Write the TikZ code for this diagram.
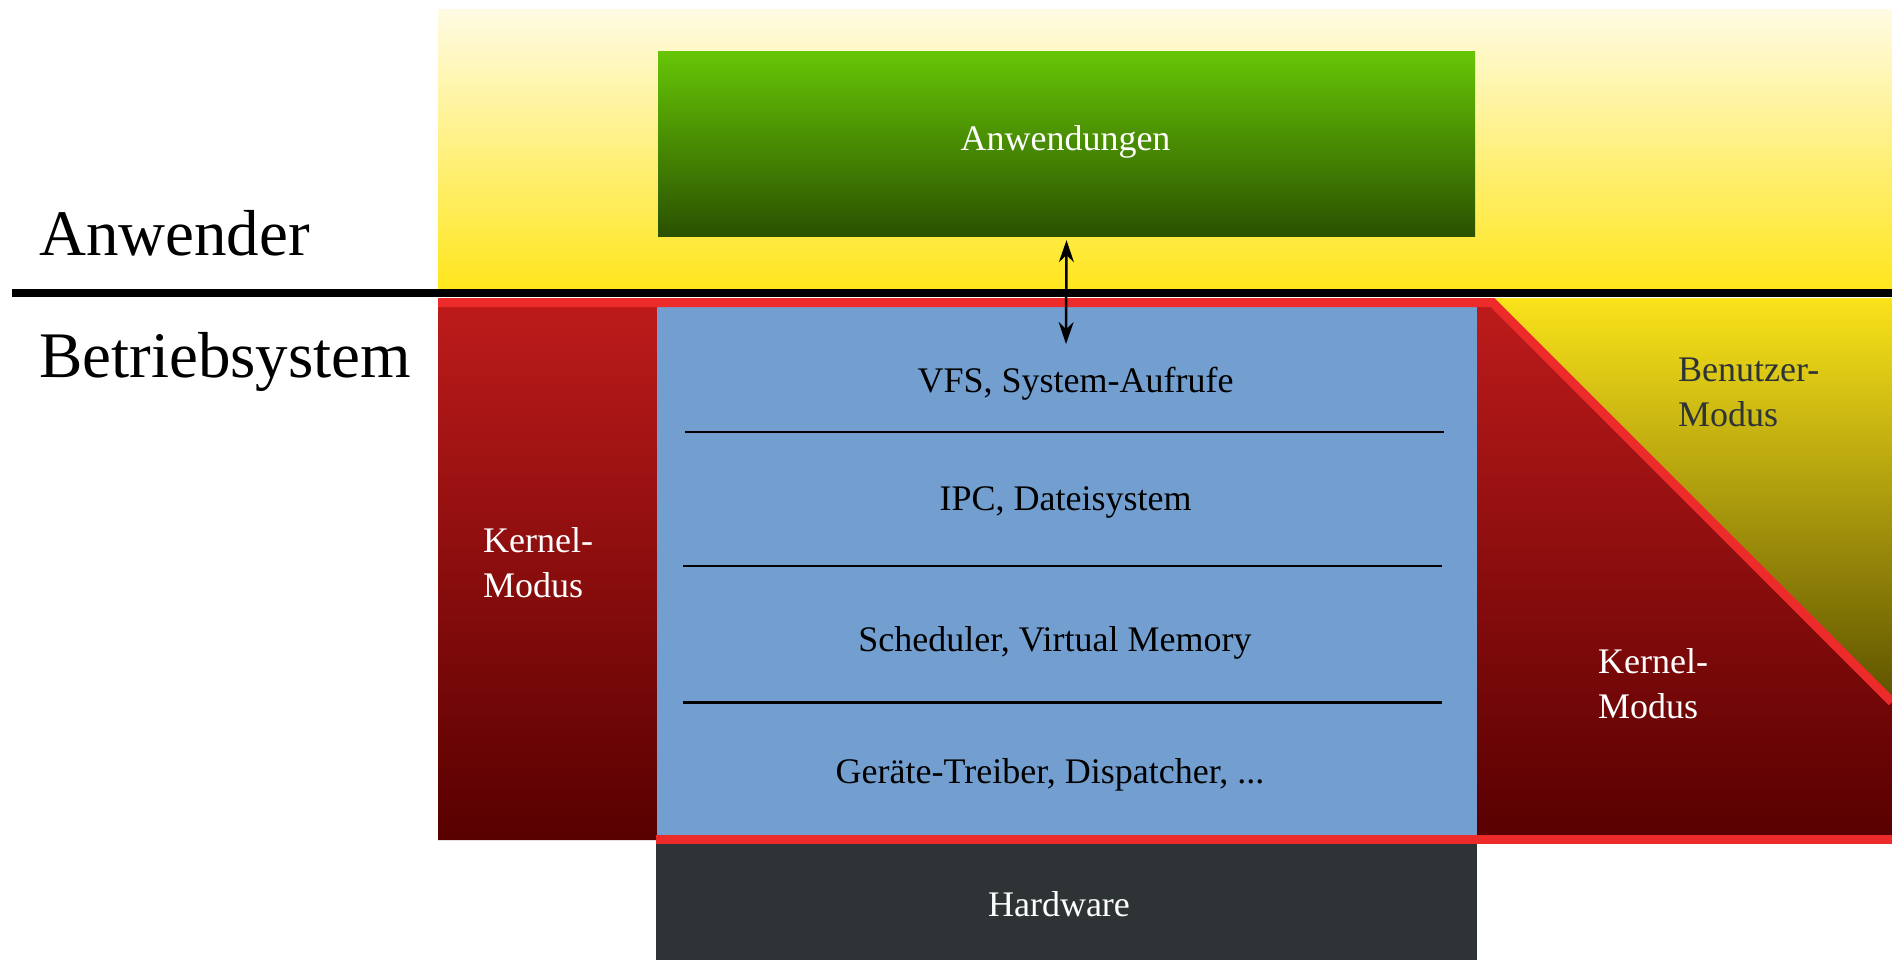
\documentclass[tikz,border=0pt]{standalone}
\usepackage{fontspec}
\setmainfont{Liberation Serif}
\usetikzlibrary{arrows.meta}

\definecolor{usertop}{HTML}{FFFBE3}
\definecolor{userbot}{HTML}{FFE61A}
\definecolor{umodetop}{HTML}{FAE31A}
\definecolor{umodebot}{HTML}{5E5400}
\definecolor{kmodetop}{HTML}{BE1B1B}
\definecolor{kmodebot}{HTML}{580000}
\definecolor{apptop}{HTML}{66C506}
\definecolor{appbot}{HTML}{2A5100}
\definecolor{layerblue}{HTML}{729FCF}
\definecolor{hwgray}{HTML}{2E3436}
\definecolor{borderred}{HTML}{EE2B2B}
\definecolor{darktext}{HTML}{2E3436}

\tikzset{
  box/.style={rectangle, inner sep=0pt, draw=none},
  layertext/.style={font=\fontsize{36}{43}\selectfont, anchor=base, inner sep=0pt},
  modetext/.style={font=\fontsize{36}{45}\selectfont, align=left, anchor=north west, inner sep=0pt},
  bigtext/.style={font=\fontsize{65}{78}\selectfont, anchor=base west, inner sep=0pt},
  border/.style={draw=borderred, line width=9pt},
  separator/.style={draw=black, line width=2.5pt},
  syscall/.style={line width=2.5pt, {Stealth[length=22pt,width=15pt]}-{Stealth[length=22pt,width=15pt]}}
}

\begin{document}
\begin{tikzpicture}[x=1pt, y=-1pt]
\useasboundingbox (0,0) rectangle (1892,960);

% user space background
\shade[top color=usertop, bottom color=userbot] (438,10) rectangle (1892,293);

% kernel mode region (left column, right column under the slope)
\shade[top color=kmodetop, bottom color=kmodebot]
  (438,298) -- (1492,298) -- (1892,698) -- (1892,840) -- (438,840) -- cycle;

% user mode wedge on the right
\shade[top color=umodetop, bottom color=umodebot]
  (1492,298) -- (1892,298) -- (1892,698) -- cycle;

% kernel layers
\node[box, fill=layerblue, minimum width=820pt, minimum height=528pt] (kernel) at (1067,571) {};

% hardware
\node[box, fill=hwgray, minimum width=821pt, minimum height=116pt] (hw) at (1066.5,902) {};

% applications
\node[box, top color=apptop, bottom color=appbot, minimum width=817pt, minimum height=184.5pt] (apps) at (1066.5,144.25) {};

% boundary between user and operating system
\draw[line width=8pt] (12,293) -- (1892,293);

% red mode borders
\draw[border] (438,302.5) -- (1492.5,302.5) -- (1892,702);
\draw[border] (656,839.5) -- (1892,839.5);

% layer separators
\draw[separator] (685,432) -- (1444,432);
\draw[separator] (683,566) -- (1442,566);
\draw[separator] (683,702.5) -- (1442,702.5);

% texts
\node[bigtext] (luser) at (39,255) {Anwender};
\node[bigtext] (los) at (39,377) {Betriebsystem};

\node[layertext, text=white] (tapps) at (1065.5,151) {Anwendungen};
\node[layertext] (tvfs) at (1075.5,392) {VFS, System-Aufrufe};
\node[layertext] (tipc) at (1065.5,510) {IPC, Dateisystem};
\node[layertext] (tsched) at (1055,651) {Scheduler, Virtual Memory};
\node[layertext] (tdrv) at (1050,783) {Geräte-Treiber, Dispatcher, ...};
\node[layertext, text=white] (thw) at (1059,916) {Hardware};

\node[modetext, text=white] (kleft) at (483,527) {Kernel-\\Modus};
\node[modetext, text=white] (kright) at (1598,648.5) {Kernel-\\Modus};
\node[modetext, text=darktext] (umode) at (1678,358) {Benutzer-\\Modus};

% system call interface
\coordinate (callend) at (1066,344);
\draw[syscall] ([yshift=-3.5pt]apps.south) -- (callend);
\end{tikzpicture}
\end{document}
